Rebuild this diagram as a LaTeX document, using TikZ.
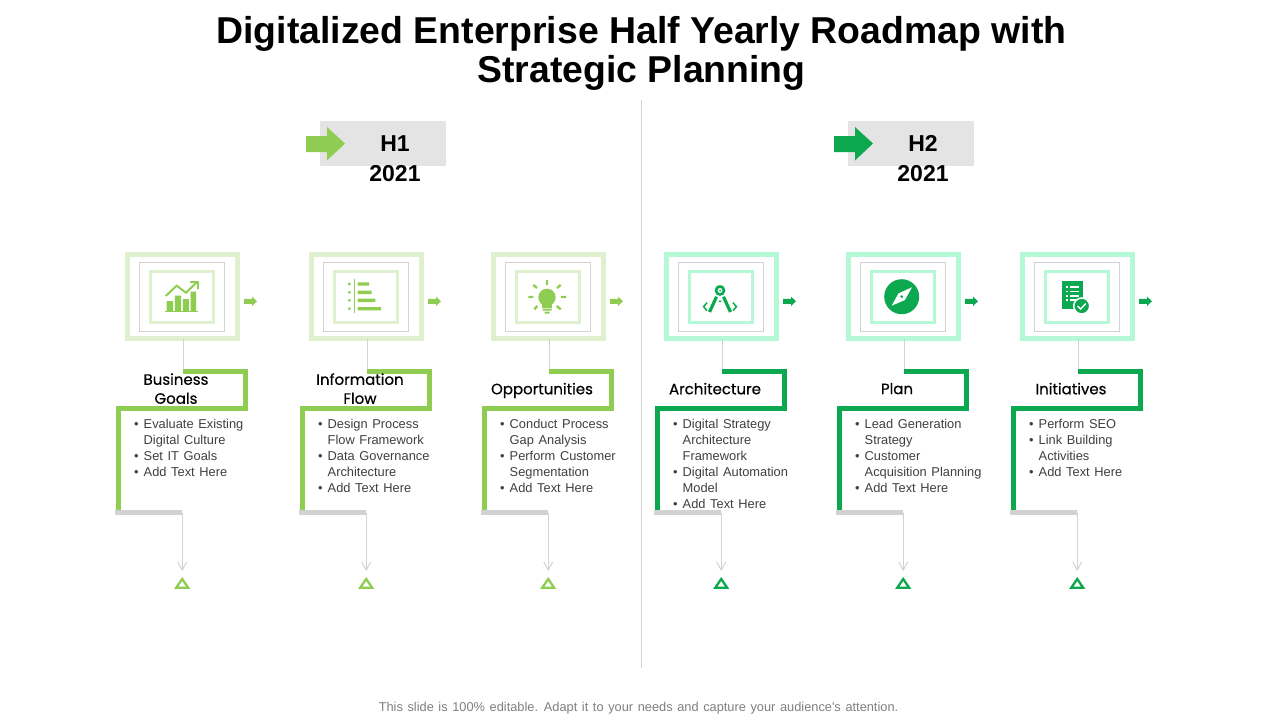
\documentclass[tikz,border=0pt]{standalone}
\usepackage{fontspec}
\setmainfont{Liberation Sans}
\newfontfamily\bodyf[WordSpace=1.3]{Liberation Sans}
\newfontfamily\headf[FakeBold=0.55]{Poppins}
\usetikzlibrary{arrows.meta}
\definecolor{gA}{HTML}{8FCD52}
\definecolor{gAl}{HTML}{DFF0CE}
\definecolor{gB}{HTML}{0BA84F}
\definecolor{gBl}{HTML}{B4F8D6}
\definecolor{rule}{HTML}{D2D2D2}
\definecolor{bodyc}{HTML}{3F3F3F}
\definecolor{foot}{HTML}{7F7F7F}
\definecolor{bandc}{HTML}{E4E4E4}
\tikzset{
 x=1pt,y=-1pt,
 titlet/.style={font=\fontsize{37.4}{39}\selectfont\bfseries,align=center,text=black,inner sep=0pt},
 period/.style={font=\fontsize{23}{30}\selectfont\bfseries,align=center,text=black,inner sep=0pt,anchor=north},
 band/.style={fill=bandc,draw=none,minimum width=126pt,minimum height=45pt,inner sep=0pt},
 outerf/.style={draw=#1,line width=4.6pt,minimum width=110.4pt,minimum height=84.4pt,inner sep=0pt,outer sep=0pt},
 midf/.style={draw=rule,line width=.8pt,minimum width=84.5pt,minimum height=69.5pt,inner sep=0pt},
 innerf/.style={draw=#1,line width=3pt,minimum width=62.7pt,minimum height=50.5pt,inner sep=0pt},
 headt/.style={font=\headf\fontsize{15}{19}\selectfont,align=center,text=black,inner sep=0pt},
 bodyt/.style={font=\bodyf\fontsize{12.85}{16}\selectfont,align=left,text=bodyc,inner sep=0pt,anchor=north west},
 thin rule/.style={draw=rule,line width=1pt},
 bracket/.style={line width=4.6pt,miter limit=10},
 tri/.style={line width=2.3pt,line join=miter},
}
\newcommand{\bl}{\llap{\textbullet\hspace{5pt}}}
% #1 left edge, #2 id, #3 strong, #4 light, #5 heading, #6 body
\newcommand{\roadcol}[6]{%
 \node[outerf=#4] (f#2) at (#1+57.5,296.5) {};
 \node[midf] (m#2) at (#1+56.8,296.8) {};
 \node[innerf=#4] (i#2) at (#1+57.2,296.8) {};
 \coordinate (top#2) at (#1+58,371.3);
 \coordinate (rc#2) at (#1+120.2,408.5);
 \coordinate (lc#2) at (#1-6.3,511);
 \draw[thin rule] (top#2 |- f#2.south) -- (top#2);
 \draw[bracket,draw=#3] (top#2) -- (rc#2 |- top#2) -- (rc#2) -- (lc#2 |- rc#2) -- (lc#2);
 \coordinate (bar#2) at (#1+57.2,512.5);
 \draw[draw=rule,line width=4.5pt] (#1-10,512.5) -- (bar#2);
 \coordinate (tipp#2) at (#1+57.2,571);
 \draw[thin rule,-{Straight Barb[length=8pt,width=9pt]}] (bar#2) -- (tipp#2);
 \draw[tri,draw=#3,fill=white] (#1+51.2,587.8) -- (#1+57.2,579) -- (#1+63.2,587.8) -- cycle;
 \fill[#3] (#1+119,298.8) -- (#1+127,298.8) -- (#1+127,296.6) -- (#1+132,301.3) -- (#1+127,306) -- (#1+127,303.8) -- (#1+119,303.8) -- cycle;
 \node[headt] (h#2) at (#1+51,390.5) {\vphantom{A}#5\vphantom{p}};
 \node[bodyt] (b#2) at (#1+18.5,418.7) {#6};
}
\begin{document}
\begin{tikzpicture}
\useasboundingbox (0,0) rectangle (1280,720);
\node[titlet] (title) at (641.5,53) {Digitalized Enterprise Half Yearly Roadmap with\\Strategic Planning};
\draw[draw=rule,line width=.8pt] (641.5,100) -- (641.5,668);

% period headers
\node[band] (b1) at (383,143.5) {};
\node[band] (b2) at (911,143.5) {};
\fill[gA] (306,136) -- (327,136) -- (327,127) -- (345,143.5) -- (327,160.5) -- (327,152) -- (306,152) -- cycle;
\fill[gB] (834,136) -- (855,136) -- (855,127) -- (873,143.5) -- (855,160.5) -- (855,152) -- (834,152) -- cycle;
\node[period] (p1) at (395,135) {H1\\2021};
\node[period] (p2) at (923,135) {H2\\2021};

\roadcol{125}{1}{gA}{gAl}{Business\\Goals}{\bl Evaluate Existing\\Digital Culture\\\bl Set IT Goals\\\bl Add Text Here}
\roadcol{309}{2}{gA}{gAl}{Information\\Flow}{\bl Design Process\\Flow Framework\\\bl Data Governance\\Architecture\\\bl Add Text Here}
\roadcol{491}{3}{gA}{gAl}{Opportunities}{\bl Conduct Process\\Gap Analysis\\\bl Perform Customer\\Segmentation\\\bl Add Text Here}
\roadcol{664}{4}{gB}{gBl}{Architecture}{\bl Digital Strategy\\Architecture\\Framework\\\bl Digital Automation\\Model\\\bl Add Text Here}
\roadcol{846}{5}{gB}{gBl}{Plan}{\bl Lead Generation\\Strategy\\\bl Customer\\Acquisition Planning\\\bl Add Text Here}
\roadcol{1020}{6}{gB}{gBl}{Initiatives}{\bl Perform SEO\\\bl Link Building\\Activities\\\bl Add Text Here}

% icon 1: chart
\fill[gA] (166.5,301) rectangle (173.2,311) (174.8,295.7) rectangle (181.2,311) (182.8,299) rectangle (188.8,311) (190.5,291.7) rectangle (196,311);
\draw[gA,line width=1pt] (165,311.5) -- (198,311.5);
\draw[gA,line width=2pt] (165.7,296) -- (176.7,285.7) -- (186,292.7) -- (196.5,282.5);
\draw[gA,line width=2pt] (190,281.7) -- (197.5,281.7) -- (197.5,289);

% icon 2: list
\draw[gA,line width=1pt] (354.3,279.3) -- (354.3,313.3);
\fill[gA] (349.3,284) circle (1.6) (349.3,292.3) circle (1.6) (349.3,300.3) circle (1.6) (349.3,308.7) circle (1.6);
\fill[gA] (357.7,282.3) rectangle (369,285.7) (357.7,290.6) rectangle (371.7,294) (357.7,298.6) rectangle (375.3,302) (357.7,307) rectangle (381,310.4);

% icon 3: bulb
\fill[gA] (547,297.3) circle (8.7);
\fill[gA] (542,303) rectangle (552,307.5);
\fill[gA] (542.5,308.7) rectangle (551.5,310.5) (544.5,311.7) rectangle (549.5,313.7);
\draw[gA,line width=2.4pt] (547,280) -- (547,285) (533.3,285) -- (537,288) (560.7,285) -- (557,288) (528.3,297) -- (533.3,297) (561,297) -- (566,297) (534.3,309.3) -- (537.3,306) (560.7,309.3) -- (556.7,306);

% icon 4: drafting compass
\fill[gB] (717.3,285.5) arc[start angle=180,end angle=360,x radius=2.7,y radius=-3.5] -- cycle;
\draw[gB,line width=2.6pt,fill=white] (720,290.5) circle (4);
\fill[gB] (720,290.5) circle (1);
\draw[gB,line width=3.2pt] (716.5,296.8) -- (709.5,312) (723.5,296.8) -- (730.5,312);
\draw[gB,line width=1.5pt] (707,302.7) -- (703.6,306.7) -- (707,310.7);
\draw[gB,line width=1.5pt] (733,302.7) -- (736.4,306.7) -- (733,310.7);
\fill[gB] (718.5,302) -- (720,300) -- (721.5,302) -- cycle;

% icon 5: compass
\fill[gB] (901.7,296.7) circle (17.5);
\fill[white] (912,287.3) -- (904.9,300) -- (891.7,305.7) -- (898.5,293.4) -- cycle;
\fill[gB] (901.7,296.7) circle (1.5);

% icon 6: document with check
\fill[gB] (1062,281) rectangle (1083.3,309);
\draw[white,line width=1.2pt] (1066,287) -- (1068,287) (1066,291.5) -- (1068,291.5) (1066,296) -- (1068,296) (1066,300) -- (1068,300)
 (1070,287) -- (1079,287) (1070,291.5) -- (1079,291.5) (1070,296) -- (1079,296) (1070,300) -- (1076,300);
\fill[gB,draw=white,line width=1.5pt] (1081.7,306) circle (8);
\draw[white,line width=1.4pt] (1077.7,306) -- (1080.7,309) -- (1085.7,303.5);

\node[font=\bodyf\fontsize{12.8}{14}\selectfont,text=foot,inner sep=0pt] (foot) at (638.5,708.3) {This slide is 100\% editable. Adapt it to your needs and capture your audience's attention.};
\end{tikzpicture}
\end{document}
